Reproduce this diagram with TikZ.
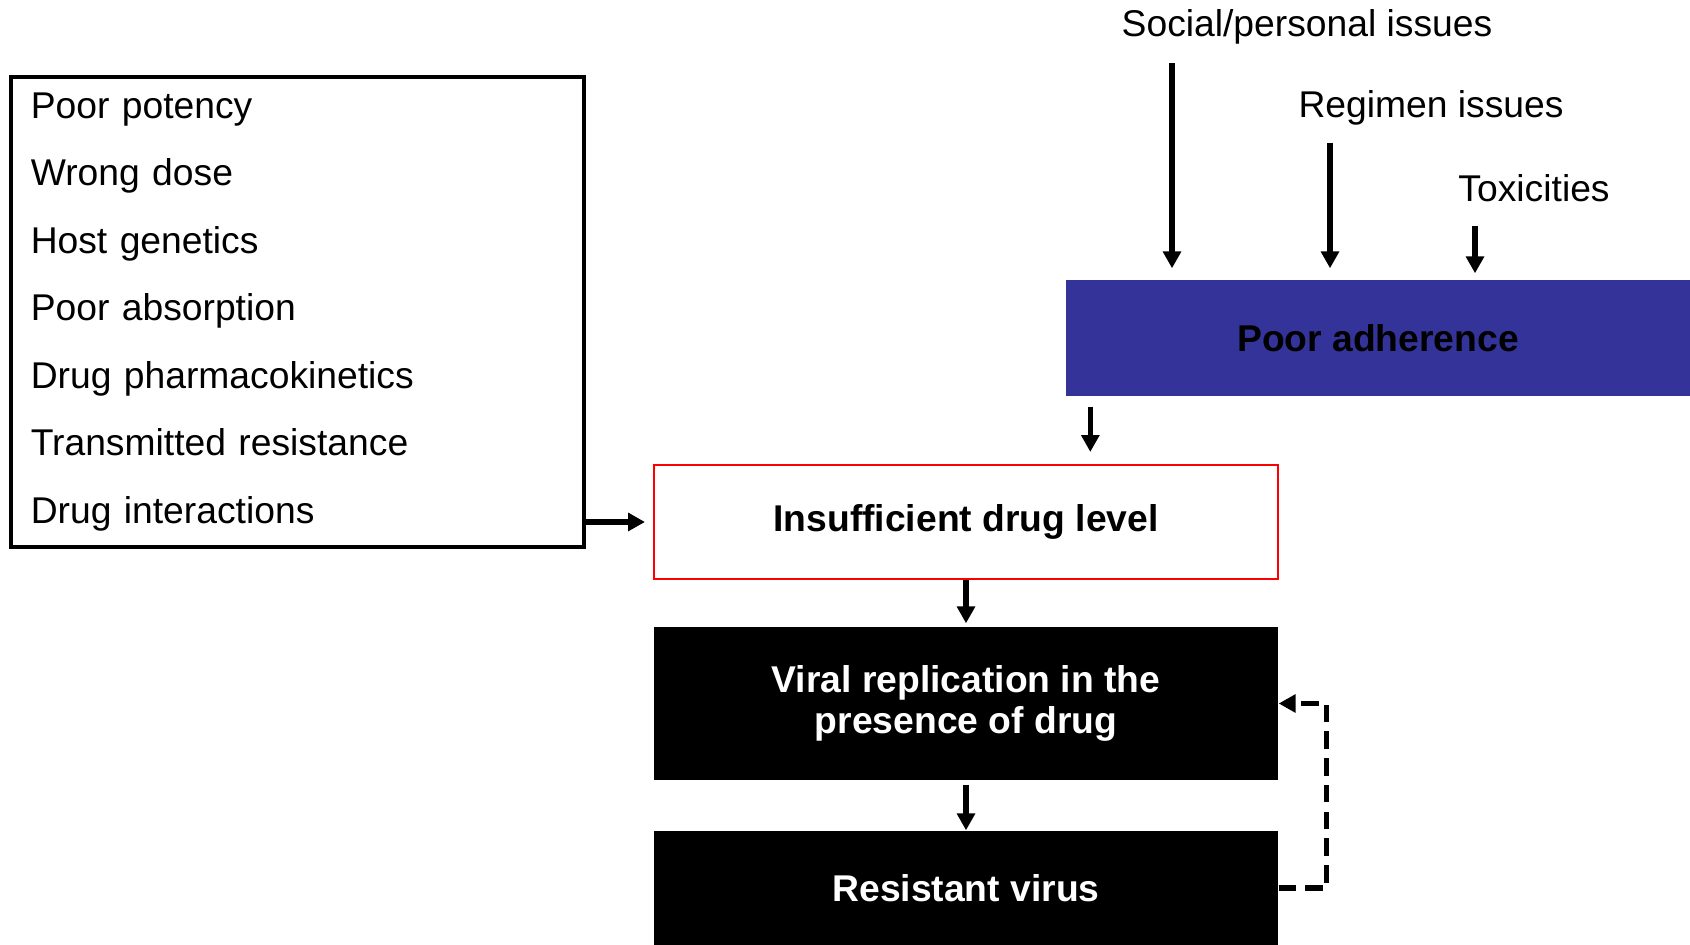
\documentclass[tikz,border=0pt]{standalone}
\usepackage{fontspec}
\setmainfont{Liberation Sans}
\usetikzlibrary{arrows.meta}
\definecolor{adhblue}{RGB}{51,51,153}

\begin{document}
\begin{tikzpicture}[>={Triangle[width=5pt,length=4.8pt]},
    every node/.style={font=\fontsize{10.6}{12}\selectfont},
    arr/.style={->,line width=1.5pt},
    backarr/.style={->,line width=1.5pt,dash pattern=on 5pt off 2.6pt},
    stepbox/.style={minimum width=6.24cm,inner sep=0pt,align=center,
      font=\fontsize{10.6}{11.7}\selectfont\bfseries}]
    \useasboundingbox (0,0) rectangle (16.9,-9.45);
    % ---- causes on the left ----
    \node[draw,line width=1pt,anchor=north west,minimum width=5.73cm,
      minimum height=4.70cm,text width=5.33cm,inner xsep=0.2cm,align=left,
      font=\fontsize{10.6}{19.2}\selectfont] (causes) at (0.09,-0.75)
      {Poor potency\\Wrong dose\\Host genetics\\Poor absorption\\
       Drug pharmacokinetics\\Transmitted resistance\\Drug interactions};
    % ---- adherence and what feeds it ----
    \node (social) at (13.07,-0.27) {Social/personal issues};
    \node (regimen) at (14.31,-1.08) {Regimen issues};
    \node (toxic) at (15.34,-1.88) {Toxicities};
    \node[stepbox,fill=adhblue,minimum height=1.16cm] (adherence) at (13.78,-3.38) {Poor adherence};
    \coordinate (socialtail) at (11.72,-0.63);
    \coordinate (regimentail) at (13.30,-1.43);
    \coordinate (toxictail) at (14.75,-2.26);
    \draw[arr] (socialtail) -- ([yshift=0.11cm]socialtail |- adherence.north);
    \draw[arr] (regimentail) -- ([yshift=0.11cm]regimentail |- adherence.north);
    \draw[arr] (toxictail) -- ([yshift=0.06cm]toxictail |- adherence.north);
    % ---- main chain ----
    \node[stepbox,draw=red,line width=0.6pt,minimum height=1.14cm] (insufficient) at (9.66,-5.22) {Insufficient drug level};
    \node[stepbox,fill=black,text=white,minimum height=1.53cm] (viral) at (9.66,-7.035)
      {Viral replication in the\\presence of drug};
    \node[stepbox,fill=black,text=white,minimum height=1.14cm] (resistant) at (9.66,-8.88) {Resistant virus};
    \draw[arr,shorten >=0.08cm] (causes.east |- insufficient.west) -- (insufficient.west);
    \draw[arr] ([xshift=0.25cm,yshift=-0.1cm]adherence.south west)
      -- ([xshift=0.25cm,yshift=0.12cm]adherence.south west |- insufficient.north);
    \draw[arr,shorten >=0.03cm] (insufficient.south) -- (viral.north);
    \draw[arr,shorten <=0.04cm] (viral.south) -- (resistant.north);
    \draw[backarr] (resistant.east) -- ++(0.48,0) |- (viral.east);
  \end{tikzpicture}
\end{document}
